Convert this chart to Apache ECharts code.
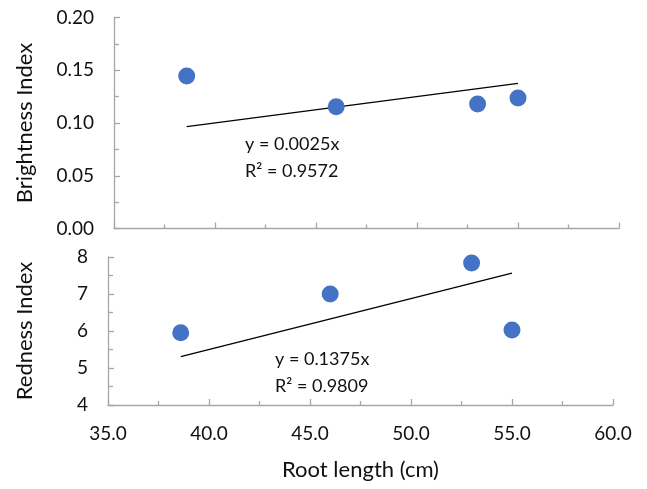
<!DOCTYPE html>
<html><head><meta charset="utf-8">
<script src="https://cdn.jsdelivr.net/npm/echarts@6/dist/echarts.min.js"></script>
<style>html,body{margin:0;padding:0;background:#fff}#c{width:647px;height:489px}</style>
</head><body><div id="c"></div>
<script>
const rootLength = [38.6, 46.0, 53.0, 55.0];
const brightness = [0.1446, 0.1155, 0.1180, 0.1238];
const redness = [5.95, 7.00, 7.84, 6.03];
const trendSlopes = [0.0025, 0.1375];
const trendLabels = [["y = 0.0025x", "R\u00b2 = 0.9572"], ["y = 0.1375x", "R\u00b2 = 0.9809"]];
const xTicks = [35, 40, 45, 50, 55, 60];

const FONT = 'Lato';
const axisCol = '#a6a6a6';
const txtCol = '#111';
const xMin = Math.min(...rootLength), xMax = Math.max(...rootLength);
const trend = s => [[xMin, s * xMin], [xMax, s * xMax]];

function xAxis(idx, showLabels) {
  return {
    type: 'value', gridIndex: idx, min: xTicks[0], max: xTicks[xTicks.length - 1], interval: 5,
    axisLine: { show: true, lineStyle: { color: axisCol, width: 1.3 } },
    axisTick: { show: true, inside: true, length: 6, lineStyle: { color: axisCol, width: 1.3 } },
    minorTick: { show: true, splitNumber: 2, length: 4, lineStyle: { color: axisCol, width: 1.3 } },
    splitLine: { show: false },
    axisLabel: { show: showLabels, margin: 19, fontFamily: FONT, fontSize: 19, color: txtCol, formatter: v => v.toFixed(1) },
    name: showLabels ? 'Root length (cm)' : '', nameLocation: 'middle', nameGap: 54,
    nameTextStyle: { fontFamily: FONT, fontSize: 22, color: txtCol }
  };
}
function yAxis(idx, min, max, interval, dec, name, gap) {
  return {
    type: 'value', gridIndex: idx, min, max, interval,
    axisLine: { show: true, lineStyle: { color: axisCol, width: 1.3 } },
    axisTick: { show: true, inside: true, length: 6, lineStyle: { color: axisCol, width: 1.3 } },
    minorTick: { show: true, splitNumber: 2, length: 5, lineStyle: { color: axisCol, width: 1.3 } },
    splitLine: { show: false },
    axisLabel: { margin: 20, fontFamily: FONT, fontSize: 19, color: txtCol, formatter: v => v.toFixed(dec) },
    name, nameLocation: 'middle', nameGap: gap,
    nameTextStyle: { fontFamily: FONT, fontSize: 22, color: txtCol }
  };
}

const chart = echarts.init(document.getElementById('c'), null, { renderer: 'canvas' });
chart.setOption({
  animation: false,
  backgroundColor: '#fff',
  grid: [
    { left: 114, top: 17.5, width: 505, height: 211 },
    { left: 108, top: 257, width: 505, height: 148 }
  ],
  xAxis: [xAxis(0, false), xAxis(1, true)],
  yAxis: [
    yAxis(0, 0, 0.2, 0.05, 2, 'Brightness Index', 78),
    yAxis(1, 4, 8, 1, 0, 'Redness Index', 72)
  ],
  series: [
    { type: 'line', xAxisIndex: 0, yAxisIndex: 0, data: trend(trendSlopes[0]), showSymbol: false, lineStyle: { color: '#000', width: 1.3 }, z: 1 },
    { type: 'scatter', xAxisIndex: 0, yAxisIndex: 0, data: rootLength.map((x, i) => [x, brightness[i]]), symbolSize: 17, itemStyle: { color: '#4472C4', opacity: 1 }, z: 2 },
    { type: 'line', xAxisIndex: 1, yAxisIndex: 1, data: trend(trendSlopes[1]), showSymbol: false, lineStyle: { color: '#000', width: 1.3 }, z: 1 },
    { type: 'scatter', xAxisIndex: 1, yAxisIndex: 1, data: rootLength.map((x, i) => [x, redness[i]]), symbolSize: 17, itemStyle: { color: '#4472C4', opacity: 1 }, z: 2 }
  ],
  graphic: [
    { type: 'text', left: 245, top: 131, style: { text: trendLabels[0].join('\n'), font: '18px ' + FONT, fill: txtCol, lineHeight: 27 } },
    { type: 'text', left: 275, top: 346, style: { text: trendLabels[1].join('\n'), font: '18px ' + FONT, fill: txtCol, lineHeight: 27 } }
  ]
});
</script></body></html>
